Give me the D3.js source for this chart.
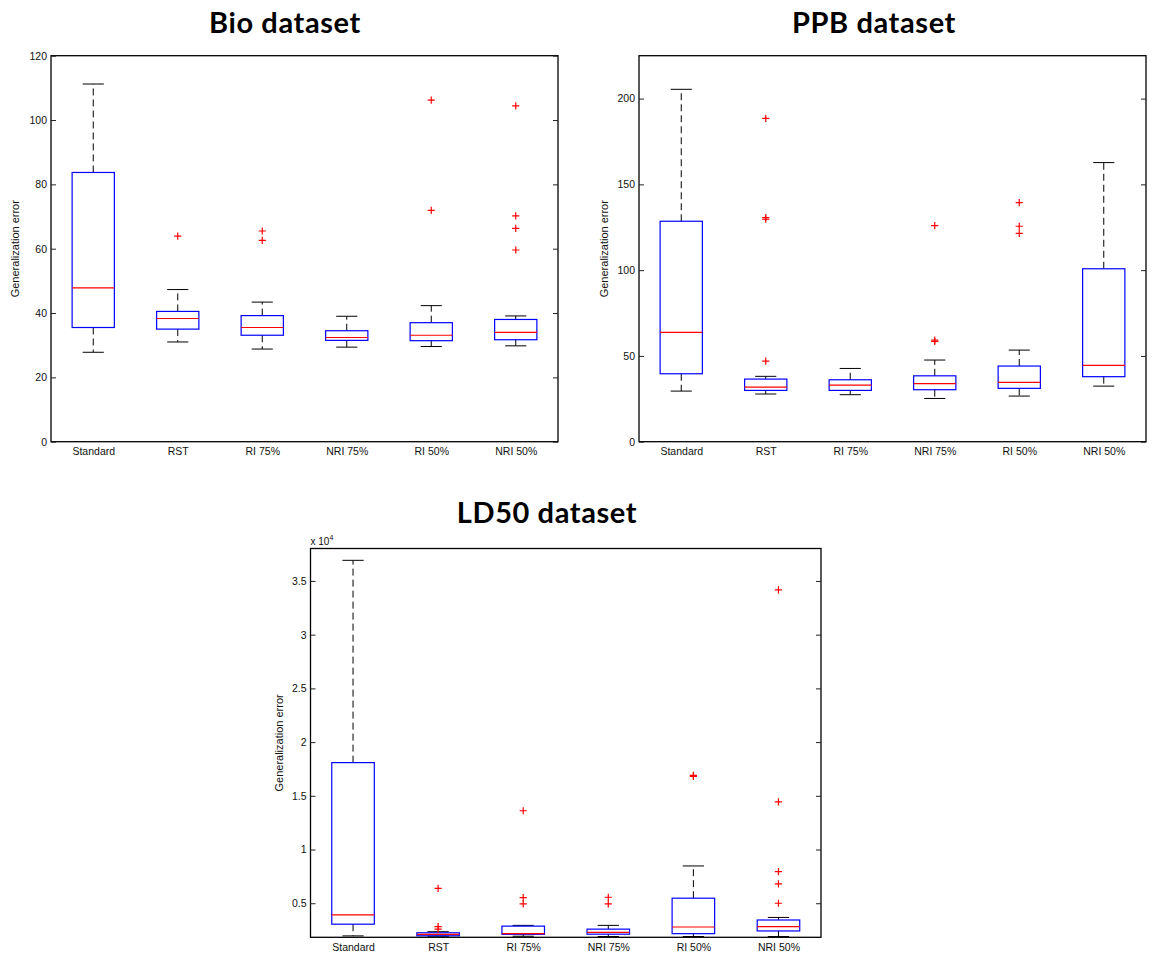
<!DOCTYPE html>
<html><head><meta charset="utf-8">
<script src="https://cdn.jsdelivr.net/npm/d3@7"></script>
<style>body{margin:0;background:#fff;} svg{display:block;}</style>
</head><body><svg id="c" width="1152" height="955"></svg>
<script>
const categories = ["Standard", "RST", "RI 75%", "NRI 75%", "RI 50%", "NRI 50%"];

// Bio dataset
const bioLower  = [27.8, 31.0, 28.8, 29.4, 29.6, 29.8];
const bioQ1     = [35.5, 35.0, 33.1, 31.5, 31.4, 31.7];
const bioMedian = [47.8, 38.3, 35.5, 32.4, 33.1, 34.0];
const bioQ3     = [83.7, 40.5, 39.2, 34.5, 37.0, 38.0];
const bioUpper  = [111.2, 47.3, 43.4, 39.0, 42.3, 39.1];
const bioOutliers = [[], [63.9], [65.5, 62.6], [], [106.2, 71.9], [104.4, 70.2, 66.3, 59.6]];
const bioTicks = [0, 20, 40, 60, 80, 100, 120];

// PPB dataset
const ppbLower  = [29.5, 27.8, 27.4, 25.2, 26.6, 32.4];
const ppbQ1     = [39.6, 29.9, 29.9, 30.3, 31.1, 37.9];
const ppbMedian = [63.7, 31.8, 33.0, 33.8, 34.6, 44.5];
const ppbQ3     = [128.5, 36.5, 36.1, 38.4, 44.1, 100.8];
const ppbUpper  = [205.4, 38.1, 42.7, 47.6, 53.4, 162.7];
const ppbOutliers = [[], [188.5, 130.7, 129.7, 47.0], [], [126.0, 59.2, 58.4], [139.4, 125.6, 121.4], []];
const ppbTicks = [0, 50, 100, 150, 200];

// LD50 dataset
const ldLower  = [1960, 1930, 1930, 1900, 1900, 1900];
const ldQ1     = [3050, 1970, 2110, 2120, 2170, 2420];
const ldMedian = [3910, 2110, 2170, 2290, 2790, 2830];
const ldQ3     = [18090, 2250, 2870, 2590, 5470, 3440];
const ldUpper  = [36920, 2350, 2940, 2940, 8470, 3680];
const ldOutliers = [[], [6380, 2820, 2590], [13610, 5530, 4940], [5560, 4950], [16900, 16810], [34170, 14440, 7950, 6800, 5000]];
const ldTicks = [5000, 10000, 15000, 20000, 25000, 30000, 35000];

const svg = d3.select("#c");
const tickFont = "'Liberation Sans', Arial, sans-serif";
const titleFont = "Lato, 'Open Sans', sans-serif";

function panel(cfg) {
  const g = svg.append("g");
  const x = d3.scalePoint().domain(categories).range([cfg.x0, cfg.x1]).padding(0.5);
  const y = d3.scaleLinear().domain(cfg.domain).range([cfg.y1, cfg.y0]);
  const step = x.step();
  const bw = step * 0.5, cw = step * 0.25;
  const rows = categories.map((c, i) => ({
    c, lo: cfg.lower[i], q1: cfg.q1[i], med: cfg.median[i], q3: cfg.q3[i], hi: cfg.upper[i], out: cfg.outliers[i]
  }));
  const clip = "clip" + cfg.id;
  svg.append("clipPath").attr("id", clip).append("rect")
    .attr("x", cfg.x0).attr("y", cfg.y0).attr("width", cfg.x1 - cfg.x0).attr("height", cfg.y1 - cfg.y0);
  const pg = g.append("g").attr("clip-path", `url(#${clip})`);

  // whiskers (dashed)
  pg.selectAll(".wu").data(rows).join("line")
    .attr("x1", d => x(d.c)).attr("x2", d => x(d.c))
    .attr("y1", d => y(d.q3)).attr("y2", d => y(d.hi))
    .attr("stroke", "#000").attr("stroke-width", 1).attr("stroke-dasharray", "7,4");
  pg.selectAll(".wl").data(rows).join("line")
    .attr("x1", d => x(d.c)).attr("x2", d => x(d.c))
    .attr("y1", d => y(d.q1)).attr("y2", d => y(d.lo))
    .attr("stroke", "#000").attr("stroke-width", 1).attr("stroke-dasharray", "7,4");
  // caps
  pg.selectAll(".cu").data(rows).join("line")
    .attr("x1", d => x(d.c) - cw / 2).attr("x2", d => x(d.c) + cw / 2)
    .attr("y1", d => y(d.hi)).attr("y2", d => y(d.hi))
    .attr("stroke", "#000").attr("stroke-width", 1);
  pg.selectAll(".cl").data(rows).join("line")
    .attr("x1", d => x(d.c) - cw / 2).attr("x2", d => x(d.c) + cw / 2)
    .attr("y1", d => y(d.lo)).attr("y2", d => y(d.lo))
    .attr("stroke", "#000").attr("stroke-width", 1);
  // boxes
  pg.selectAll(".bx").data(rows).join("rect")
    .attr("x", d => x(d.c) - bw / 2).attr("width", bw)
    .attr("y", d => y(d.q3)).attr("height", d => y(d.q1) - y(d.q3))
    .attr("fill", "none").attr("stroke", "#0000ff").attr("stroke-width", 1.2);
  // medians
  pg.selectAll(".md").data(rows).join("line")
    .attr("x1", d => x(d.c) - bw / 2).attr("x2", d => x(d.c) + bw / 2)
    .attr("y1", d => y(d.med)).attr("y2", d => y(d.med))
    .attr("stroke", "#ff0000").attr("stroke-width", 1.2);
  // outliers
  const outs = rows.flatMap(d => d.out.map(v => ({ c: d.c, v })));
  const s = 3.6;
  pg.selectAll(".oc").data(outs).join("path")
    .attr("d", d => `M${x(d.c) - s},${y(d.v)}H${x(d.c) + s}M${x(d.c)},${y(d.v) - s}V${y(d.v) + s}`)
    .attr("stroke", "#ff0000").attr("stroke-width", 1.2).attr("fill", "none");

  // frame
  g.append("rect").attr("x", cfg.x0).attr("y", cfg.y0)
    .attr("width", cfg.x1 - cfg.x0).attr("height", cfg.y1 - cfg.y0)
    .attr("fill", "none").attr("stroke", "#000").attr("stroke-width", 1.3);

  // axes
  const la = g.append("g").attr("transform", `translate(${cfg.x0},0)`)
    .call(d3.axisLeft(y).tickValues(cfg.ticks).tickFormat(cfg.fmt).tickSize(-5).tickPadding(4));
  const ra = g.append("g").attr("transform", `translate(${cfg.x1},0)`)
    .call(d3.axisRight(y).tickValues(cfg.ticks).tickFormat("").tickSize(-5));
  const ba = g.append("g").attr("transform", `translate(0,${cfg.y1})`)
    .call(d3.axisBottom(x).tickSize(0).tickPadding(6));
  [la, ra, ba].forEach(a => {
    a.select(".domain").remove();
    a.selectAll("line").attr("stroke", "#222").attr("stroke-width", 1);
    a.selectAll("text").attr("font-family", tickFont).attr("font-size", 10.5).attr("fill", "#111");
  });

  // y label
  g.append("text")
    .attr("transform", `translate(${cfg.ylabX},${(cfg.y0 + cfg.y1) / 2}) rotate(-90)`)
    .attr("text-anchor", "middle").attr("font-family", tickFont).attr("font-size", 11).attr("fill", "#111")
    .text("Generalization error");

  // title
  g.append("text").attr("x", cfg.titleX).attr("y", cfg.titleY)
    .attr("text-anchor", "middle").attr("font-family", titleFont).attr("font-weight", 700)
    .attr("font-size", 29).attr("letter-spacing", 0.6).attr("fill", "#000").text(cfg.title);

  if (cfg.exponent) {
    const t = g.append("text").attr("x", cfg.x0).attr("y", cfg.y0 - 4)
      .attr("font-family", tickFont).attr("font-size", 10).attr("fill", "#111");
    t.append("tspan").text("x 10");
    t.append("tspan").attr("font-size", 7).attr("dy", -5).text(cfg.exponent);
  }
}

panel({ id: "bio", title: "Bio dataset", titleX: 285, titleY: 33,
  x0: 51, x1: 558, y0: 55.7, y1: 441.7, domain: [0, 120], ticks: bioTicks, fmt: d3.format("d"),
  lower: bioLower, q1: bioQ1, median: bioMedian, q3: bioQ3, upper: bioUpper, outliers: bioOutliers, ylabX: 19 });

panel({ id: "ppb", title: "PPB dataset", titleX: 874, titleY: 33,
  x0: 639, x1: 1146, y0: 55.7, y1: 441.7, domain: [0, 225], ticks: ppbTicks, fmt: d3.format("d"),
  lower: ppbLower, q1: ppbQ1, median: ppbMedian, q3: ppbQ3, upper: ppbUpper, outliers: ppbOutliers, ylabX: 608 });

panel({ id: "ld", title: "LD50 dataset", titleX: 547, titleY: 522.7,
  x0: 310.5, x1: 821, y0: 548.5, y1: 937.3, domain: [1830, 38020], ticks: ldTicks, fmt: v => d3.format("~g")(v / 1e4),
  lower: ldLower, q1: ldQ1, median: ldMedian, q3: ldQ3, upper: ldUpper, outliers: ldOutliers, ylabX: 283, exponent: "4" });
</script>
</body></html>
